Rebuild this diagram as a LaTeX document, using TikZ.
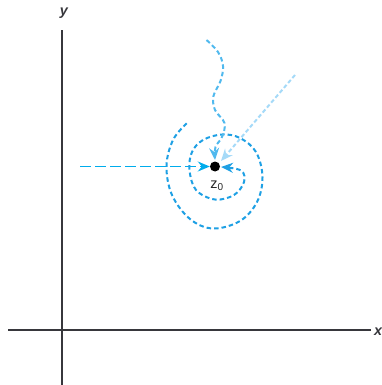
\documentclass[tikz,border=0pt]{standalone}
\usepackage{fontspec}
\setsansfont{Liberation Sans}
\usetikzlibrary{arrows.meta}
\definecolor{mainblue}{RGB}{30,160,228}
\definecolor{hblue}{RGB}{0,172,236}
\definecolor{wblue}{RGB}{80,185,238}
\definecolor{lblue}{RGB}{165,218,248}
\definecolor{axisgray}{RGB}{55,55,60}
\tikzset{
  axisline/.style={draw=axisgray, line width=1.6pt},
  axlabel/.style={font=\sffamily\bfseries\itshape\Large, text=axisgray, inner sep=0pt},
  spiral/.style={draw=mainblue, line width=2pt, dash pattern=on 4.5pt off 3pt},
  horiz/.style={draw=hblue, line width=1.7pt, dash pattern=on 11pt off 4pt},
  wavy/.style={draw=wblue, line width=2pt, dash pattern=on 4.5pt off 3pt},
  diag/.style={draw=lblue, line width=2pt, dash pattern=on 4pt off 2.5pt},
  tip/.style={-{Stealth[length=12pt,width=10pt,inset=4pt]}}
}
\begin{document}
\begin{tikzpicture}[x=1pt,y=-1pt]
\useasboundingbox (0,0) rectangle (382,385);
% axes
\coordinate (ytop) at (62,30);
\coordinate (ybot) at (62,385);
\coordinate (xl) at (8,330);
\coordinate (xr) at (371,330);
\draw[axisline] (ybot) -- (ytop);
\draw[axisline] (xl) -- (xr);
\node[axlabel] (ylab) at (64,13) {y};
\node[axlabel, anchor=west] (xlab) at (374,332) {x};
% point z0
\node[circle, fill=black, inner sep=0pt, minimum size=10pt] (z0) at (215,166.5) {};
\node[font=\sffamily\Large, inner sep=0pt, text=black!85] (z0lab) at (217,186) {z$_{\mathsf{0}}$};
% horizontal approach
\coordinate (hstart) at (80,166.5);
\draw[horiz, tip] (hstart) -- (z0.west);
% spiral approach
\draw[spiral, tip] plot[smooth, tension=0.6] coordinates {
  (186.7,123.3) (173,140) (166.5,166) (172,195) (190,219) (213,228.5)
  (240,221) (257,202) (262.5,177) (256,152) (240,138) (222,134.5)
  (203,140) (192,152) (189.5,170) (196,190) (215,199.5) (234,195)
  (244,182) (241,170.5) (221,167)};
% wavy approach
\draw[wavy, tip] plot[smooth, tension=0.6] coordinates {
  (206.5,40) (218,52) (223,66) (220.5,81) (213.5,96) (215,110) (224.5,123)
  (222,137) (215.5,147) (215,160)};
% diagonal approach
\coordinate (dstart) at (295,75);
\draw[diag, tip] (dstart) -- (221,161);
\end{tikzpicture}
\end{document}
